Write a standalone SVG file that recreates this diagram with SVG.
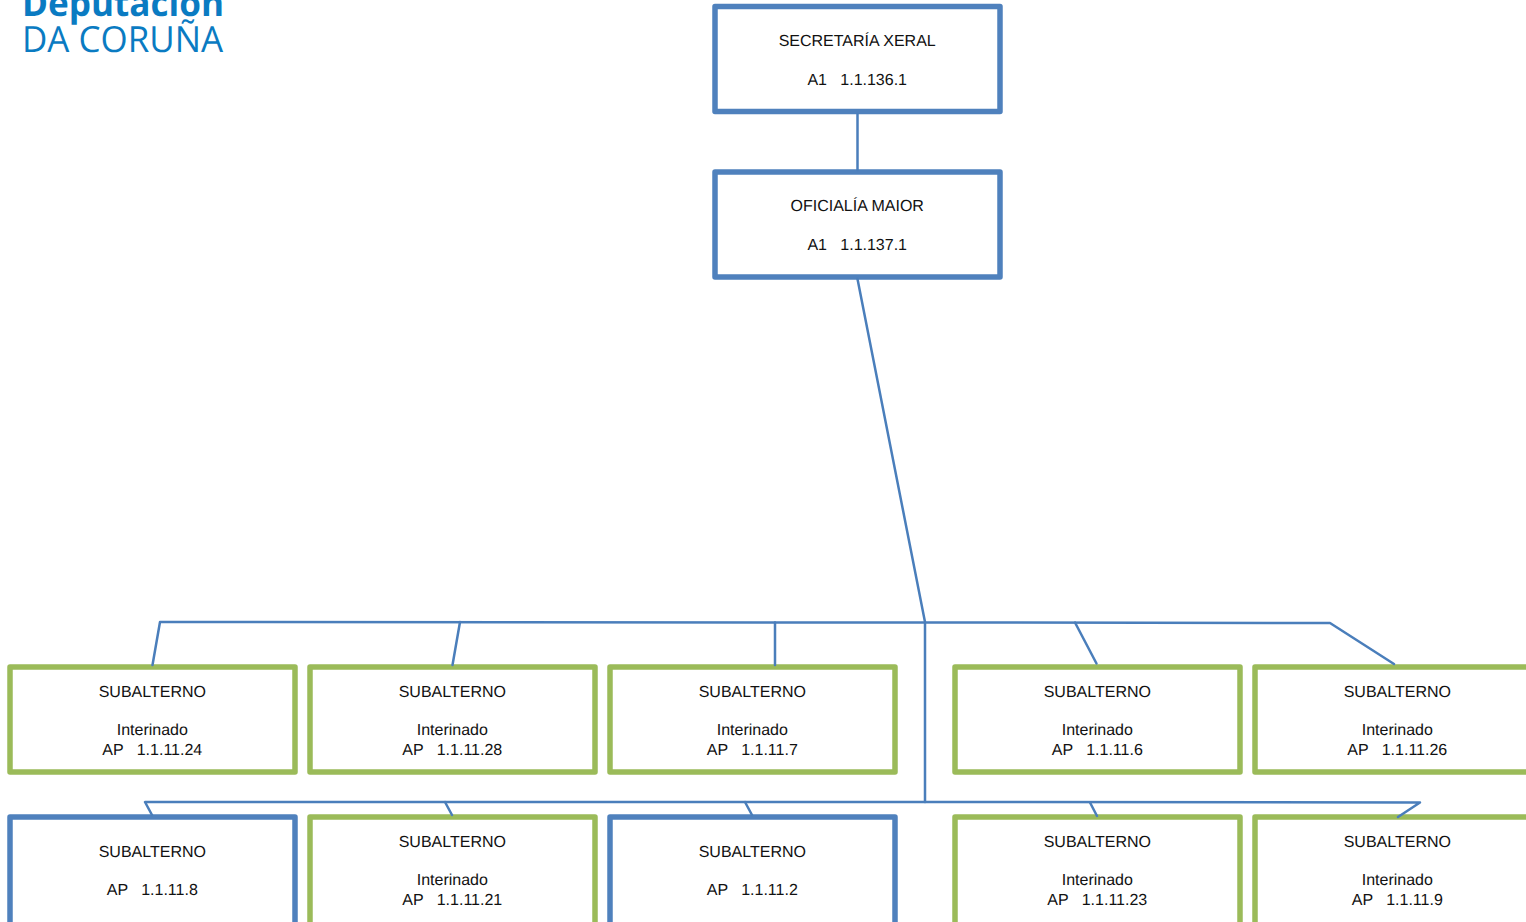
<svg xmlns="http://www.w3.org/2000/svg" width="1526" height="922" viewBox="0 0 1526 922">
<style>
rect{fill:#fff;stroke-width:5.5;stroke-linejoin:round}
.b rect{stroke:#4f81bd}
.g rect{stroke:#9bbb59}
text{font-family:"Liberation Sans",Arial,sans-serif;font-size:16px;fill:#111;text-anchor:middle;white-space:pre;text-rendering:geometricPrecision}
.c path{fill:none;stroke:#4a7ebb;stroke-width:2.5;stroke-linejoin:round;stroke-linecap:round}
.logo{font-family:"Open Sans","Noto Sans",sans-serif;fill:#0a7bc2;text-anchor:start}
</style>
<rect width="1526" height="922" style="stroke:none"/>
<g id="logo">
<text class="logo" x="22" y="16" style="font-size:36px;font-weight:700" textLength="202" lengthAdjust="spacingAndGlyphs">Deputación</text>
<text class="logo" x="22" y="52" style="font-size:36px;font-weight:400" textLength="201" lengthAdjust="spacingAndGlyphs">DA CORUÑA</text>
</g>
<g id="n1" class="b"><rect x="715" y="6.500" width="285" height="105"/><text x="857.200" y="46">SECRETARÍA XERAL</text><text x="857.200" y="85">A1   1.1.136.1</text></g>
<g id="n2" class="b"><rect x="715" y="172" width="285" height="105"/><text x="857.200" y="211">OFICIALÍA MAIOR</text><text x="857.200" y="250">A1   1.1.137.1</text></g>
<g id="r1a" class="g"><rect x="10" y="667" width="285" height="105"/><text x="152.300" y="697">SUBALTERNO</text><text x="152.300" y="735">Interinado</text><text x="152.300" y="755">AP   1.1.11.24</text></g>
<g id="r1b" class="g"><rect x="310" y="667" width="285" height="105"/><text x="452.300" y="697">SUBALTERNO</text><text x="452.300" y="735">Interinado</text><text x="452.300" y="755">AP   1.1.11.28</text></g>
<g id="r1c" class="g"><rect x="610" y="667" width="285" height="105"/><text x="752.300" y="697">SUBALTERNO</text><text x="752.300" y="735">Interinado</text><text x="752.300" y="755">AP   1.1.11.7</text></g>
<g id="r1d" class="g"><rect x="955" y="667" width="285" height="105"/><text x="1097.300" y="697">SUBALTERNO</text><text x="1097.300" y="735">Interinado</text><text x="1097.300" y="755">AP   1.1.11.6</text></g>
<g id="r1e" class="g"><rect x="1255" y="667" width="285" height="105"/><text x="1397.300" y="697">SUBALTERNO</text><text x="1397.300" y="735">Interinado</text><text x="1397.300" y="755">AP   1.1.11.26</text></g>
<g id="r2a" class="b"><rect x="10" y="817" width="285" height="115"/><text x="152.300" y="857">SUBALTERNO</text><text x="152.300" y="895">AP   1.1.11.8</text></g>
<g id="r2b" class="g"><rect x="310" y="817" width="285" height="115"/><text x="452.300" y="847">SUBALTERNO</text><text x="452.300" y="885">Interinado</text><text x="452.300" y="905">AP   1.1.11.21</text></g>
<g id="r2c" class="b"><rect x="610" y="817" width="285" height="115"/><text x="752.300" y="857">SUBALTERNO</text><text x="752.300" y="895">AP   1.1.11.2</text></g>
<g id="r2d" class="g"><rect x="955" y="817" width="285" height="115"/><text x="1097.300" y="847">SUBALTERNO</text><text x="1097.300" y="885">Interinado</text><text x="1097.300" y="905">AP   1.1.11.23</text></g>
<g id="r2e" class="g"><rect x="1255" y="817" width="285" height="115"/><text x="1397.300" y="847">SUBALTERNO</text><text x="1397.300" y="885">Interinado</text><text x="1397.300" y="905">AP   1.1.11.9</text></g>
<g id="connectors" class="c">
<path d="M857.500 114V170"/>
<path d="M857.500 279L925 622V802"/>
<path d="M152.500 665L160 622L925 622.500L1330 623L1394 664"/>
<path d="M452.500 665L460 622"/>
<path d="M775 665V622.500"/>
<path d="M1075 622.500L1096.500 663.500"/>
<path d="M152 815L145 802L925 802L1420 802.500L1398 817"/>
<path d="M452 815L445 802"/>
<path d="M752 815L745 802"/>
<path d="M1097 816L1090 802.500"/>
</g>
</svg>
